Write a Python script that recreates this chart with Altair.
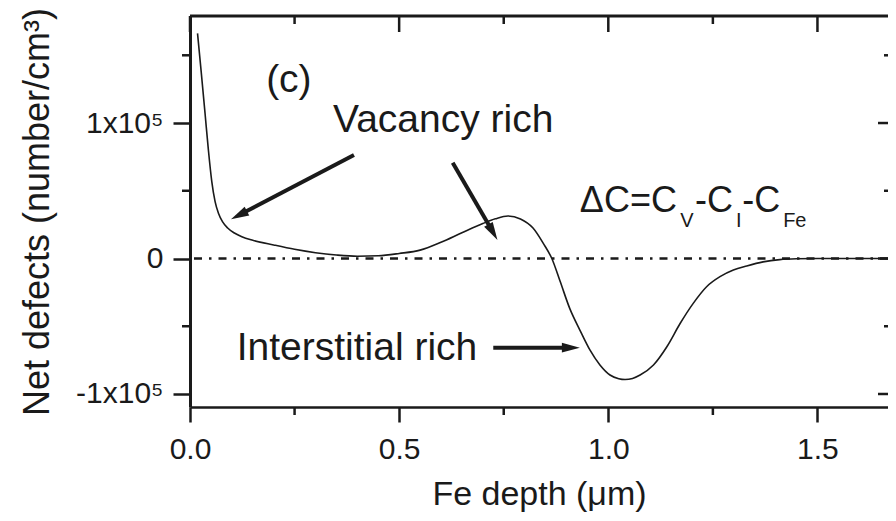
import math
import altair as alt
import pandas as pd

# ---------------- data ----------------
depth_um = [0.018, 0.027, 0.036, 0.044, 0.052, 0.060, 0.068, 0.078, 0.090, 0.105,
            0.124, 0.150, 0.200, 0.250, 0.300, 0.350, 0.400, 0.450, 0.500, 0.550,
            0.600, 0.650, 0.700, 0.730, 0.760, 0.790, 0.820, 0.845, 0.865, 0.885,
            0.908, 0.932, 0.956, 0.980, 1.004, 1.025, 1.040, 1.058, 1.076, 1.108,
            1.140, 1.172, 1.203, 1.235, 1.267, 1.299, 1.331, 1.370, 1.410, 1.450,
            1.500, 1.600, 1.700]
net_defects = [166200, 137000, 107000, 80000, 57000, 42000, 33400, 27000, 22500, 19000,
               16100, 13500, 10000, 6800, 4300, 2600, 1700, 2000, 3700, 6200,
               12000, 19000, 25800, 29300, 31400, 29200, 22500, 11000, 0, -17000,
               -37000, -52800, -67500, -78600, -86000, -88700, -89300, -88500, -86000, -78600,
               -65100, -47800, -33100, -20800, -13400, -8500, -5500, -2500, -800, -200,
               0, 0, 0]

x_major_ticks = [0.0, 0.5, 1.0, 1.5]
x_minor_ticks = [0.25, 0.75, 1.25]
y_major_ticks = [-100000, 0, 100000]
y_major_labels = ["-1x10\u2075", "0", "1x10\u2075"]
y_minor_ticks = [-50000, 50000, 150000]

x_title = "Fe depth (\u03bcm)"
y_title = "Net defects (number/cm\u00b3)"

# annotations (anchor positions in data units)
label_text = ["(c)", "Vacancy rich", "Interstitial rich"]
label_x = [0.182, 0.342, 0.1116]
label_y = [122900, 93400, -74900]
formula_text = ["\u0394C=C", "-C", "-C"]
formula_x = [0.932, 1.207, 1.320]
formula_y = [34300, 34300, 34300]
sub_text = ["V", "I", "Fe"]
sub_x = [1.172, 1.305, 1.418]
sub_y = [23200, 23200, 23200]

arrow_x0 = [0.392, 0.628, 0.725]
arrow_y0 = [76400, 70700, -65800]
arrow_x1 = [0.098, 0.735, 0.932]
arrow_y1 = [28900, 13700, -65800]

# ---------------- layout / style ----------------
PX_PER_UM = 418.3
W, H = 698, 391
x_domain = [0, W / PX_PER_UM]
y_domain = [-109600, 179000]
FONT = "Liberation Sans"
INK = "#1a1a1a"

px_x = W / (x_domain[1] - x_domain[0])
px_y = H / (y_domain[1] - y_domain[0])

xs = alt.Scale(domain=x_domain, nice=False, zero=False)
ys = alt.Scale(domain=y_domain, nice=False, zero=False)

label_expr = " : ".join(
    f"datum.value === {v} ? '{t}'" for v, t in zip(y_major_ticks, y_major_labels)
) + " : ''"

XAXIS = alt.Axis(
    values=x_major_ticks, format=".1f", title=x_title, grid=False, labelFlush=False,
    tickSize=15, tickWidth=2.5, tickColor=INK, domainWidth=2.5, domainColor=INK,
    labelFont=FONT, labelFontSize=30, labelColor=INK, labelPadding=12,
    titleFont=FONT, titleFontSize=34, titleFontWeight="normal", titleColor=INK,
    titlePadding=13)
YAXIS = alt.Axis(
    values=y_major_ticks, labelExpr=label_expr, title=y_title, grid=False,
    tickSize=17, tickWidth=2.5, tickColor=INK, domainWidth=3, domainColor=INK,
    labelFont=FONT, labelFontSize=30, labelColor=INK, labelPadding=10,
    titleFont=FONT, titleFontSize=36, titleFontWeight="normal", titleColor=INK,
    titlePadding=19)


def X(f):
    return alt.X(f, type="quantitative", scale=xs, axis=XAXIS, title=x_title)


def Y(f):
    return alt.Y(f, type="quantitative", scale=ys, axis=YAXIS, title=y_title)


curve = pd.DataFrame({"depth": depth_um, "net": net_defects})

line = alt.Chart(curve).mark_line(
    color=INK, strokeWidth=1.6, interpolate="monotone", clip=True
).encode(x=X("depth"), y=Y("net"))

zero = alt.Chart(pd.DataFrame({"z": [0]})).mark_rule(
    color=INK, strokeWidth=2.3, strokeDash=[8, 7, 2.5, 7]
).encode(y=Y("z"))

# frame (top) and mirror / minor ticks
top_line = alt.Chart(pd.DataFrame({"z": [0]})).mark_rule(color=INK, strokeWidth=3).encode(
    x=alt.value(0), x2=alt.value(W), y=alt.value(0))

xmaj = pd.DataFrame({"t": x_major_ticks})
xmin = pd.DataFrame({"t": x_minor_ticks})
ymaj = pd.DataFrame({"t": y_major_ticks})
ymin = pd.DataFrame({"t": y_minor_ticks})

tick_style = dict(color=INK, strokeWidth=2.5)
top_major = alt.Chart(xmaj).mark_rule(**tick_style).encode(x=X("t"), y=alt.value(0), y2=alt.value(16))
top_minor = alt.Chart(xmin).mark_rule(**tick_style).encode(x=X("t"), y=alt.value(0), y2=alt.value(8))
bot_minor = alt.Chart(xmin).mark_rule(**tick_style).encode(x=X("t"), y=alt.value(H), y2=alt.value(H + 8))
left_minor = alt.Chart(ymin).mark_rule(**tick_style).encode(y=Y("t"), x=alt.value(-8), x2=alt.value(0))
right_major = alt.Chart(ymaj).mark_rule(**tick_style).encode(y=Y("t"), x=alt.value(W - 10), x2=alt.value(W))
right_minor = alt.Chart(ymin).mark_rule(**tick_style).encode(y=Y("t"), x=alt.value(W - 4), x2=alt.value(W))

# texts
labels = alt.Chart(pd.DataFrame({"x": label_x, "y": label_y, "t": label_text})).mark_text(
    align="left", baseline="alphabetic", font=FONT, fontSize=39, color=INK
).encode(x=X("x"), y=Y("y"), text="t:N")
formula = alt.Chart(pd.DataFrame({"x": formula_x, "y": formula_y, "t": formula_text})).mark_text(
    align="left", baseline="alphabetic", font=FONT, fontSize=36, color=INK
).encode(x=X("x"), y=Y("y"), text="t:N")
sub = alt.Chart(pd.DataFrame({"x": sub_x, "y": sub_y, "t": sub_text})).mark_text(
    align="left", baseline="alphabetic", font=FONT, fontSize=20, color=INK
).encode(x=X("x"), y=Y("y"), text="t:N")

# arrows
head_len = 18
rows = []
for x0, y0, x1, y1 in zip(arrow_x0, arrow_y0, arrow_x1, arrow_y1):
    dxp = (x1 - x0) * px_x
    dyp = -(y1 - y0) * px_y
    L = math.hypot(dxp, dyp)
    ang = math.degrees(math.atan2(dxp, -dyp)) % 360
    cut = 0.6 * head_len
    ex = x1 - dxp / L * cut / px_x
    ey = y1 + dyp / L * cut / px_y
    rows.append({"x0": x0, "y0": y0, "ex": ex, "ey": ey, "x1": x1, "y1": y1, "ang": ang})
arrows = pd.DataFrame(rows)

shafts = alt.Chart(arrows).mark_rule(color=INK, strokeWidth=4).encode(
    x=X("x0"), y=Y("y0"), x2="ex", y2="ey")
heads = alt.Chart(arrows).mark_point(
    shape="M0,0L0.55,2L-0.55,2Z", size=head_len ** 2, filled=True,
    color=INK, opacity=1, strokeWidth=0
).encode(x=X("x1"), y=Y("y1"), angle=alt.Angle("ang:Q", scale=None))

chart = alt.layer(
    zero, line, top_line, top_major, top_minor, bot_minor, left_minor,
    right_major, right_minor, shafts, heads, labels, formula, sub
).properties(
    width=W, height=H,
    autosize=alt.AutoSizeParams(type="none"),
    padding={"left": 182, "top": 8, "right": 0, "bottom": 106},
    background="white",
).configure_view(stroke=None)

chart.save("out.html", embed_options={"renderer": "svg", "actions": False})
